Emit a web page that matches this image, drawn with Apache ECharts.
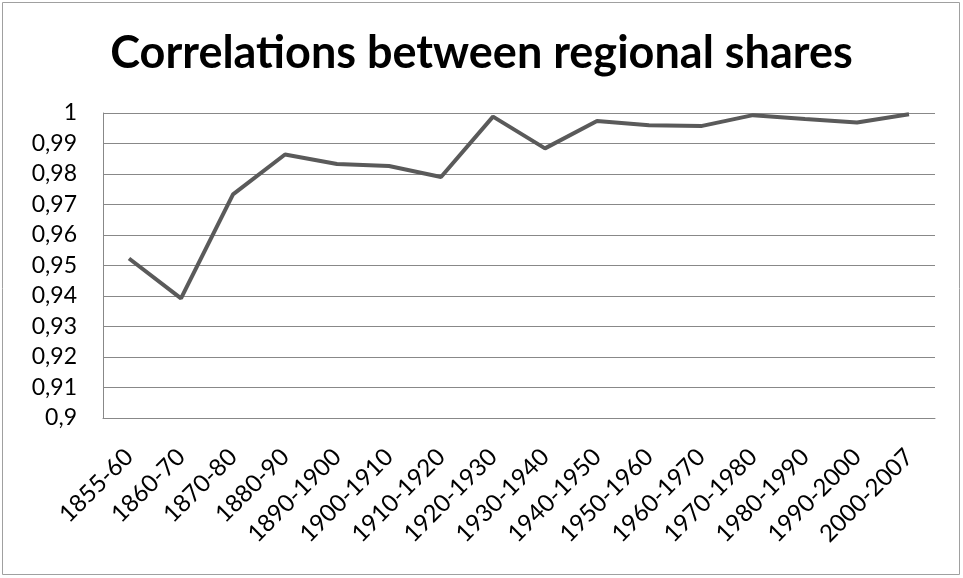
<!DOCTYPE html>
<html><head><meta charset="utf-8">
<script src="https://cdn.jsdelivr.net/npm/echarts@6/dist/echarts.min.js"></script>
<style>html,body{margin:0;padding:0;background:#fff}#c{width:963px;height:578px}</style>
</head><body><div id="c"></div>
<script>
const title = 'Correlations between regional shares';
const categories = ['1855-60','1860-70','1870-80','1880-90','1890-1900','1900-1910','1910-1920','1920-1930','1930-1940','1940-1950','1950-1960','1960-1970','1970-1980','1980-1990','1990-2000','2000-2007'];
const values = [0.9523,0.9392,0.9733,0.9864,0.9833,0.9826,0.9790,0.9988,0.9884,0.9974,0.9960,0.9957,0.9993,0.9980,0.9969,0.9996];
const yMin = 0.9, yMax = 1, yStep = 0.01;

const chart = echarts.init(document.getElementById('c'), null, {renderer:'canvas'});
chart.setOption({
  animation:false,
  backgroundColor:'#fff',
  graphic:[{type:'rect',shape:{x:2.5,y:2.5,width:957,height:572},style:{fill:'none',stroke:'#a0a0a0',lineWidth:1}}],
  title:{text:title,left:'center',top:26,textStyle:{fontFamily:'Lato',fontWeight:'bold',fontSize:45,color:'#000'}},
  grid:{left:103,right:28,top:113,bottom:160,containLabel:false},
  xAxis:{type:'category',data:categories,boundaryGap:true,
    axisLine:{show:true,lineStyle:{color:'#888',width:1}},
    axisTick:{show:false},
    axisLabel:{rotate:45,interval:0,fontFamily:'Lato',fontSize:24,color:'#000',margin:35}},
  yAxis:{type:'value',min:yMin,max:yMax,interval:yStep,
    axisLine:{show:true,lineStyle:{color:'#888',width:1}},
    axisTick:{show:false},
    splitLine:{lineStyle:{color:'#888',width:1}},
    axisLabel:{fontFamily:'Lato',fontSize:23,color:'#000',margin:26,
      formatter:v=>String(+v.toFixed(2)).replace('.',',')}},
  series:[{type:'line',data:values,symbol:'none',lineStyle:{color:'#5a5a5a',width:4},smooth:false}]
});
</script></body></html>
